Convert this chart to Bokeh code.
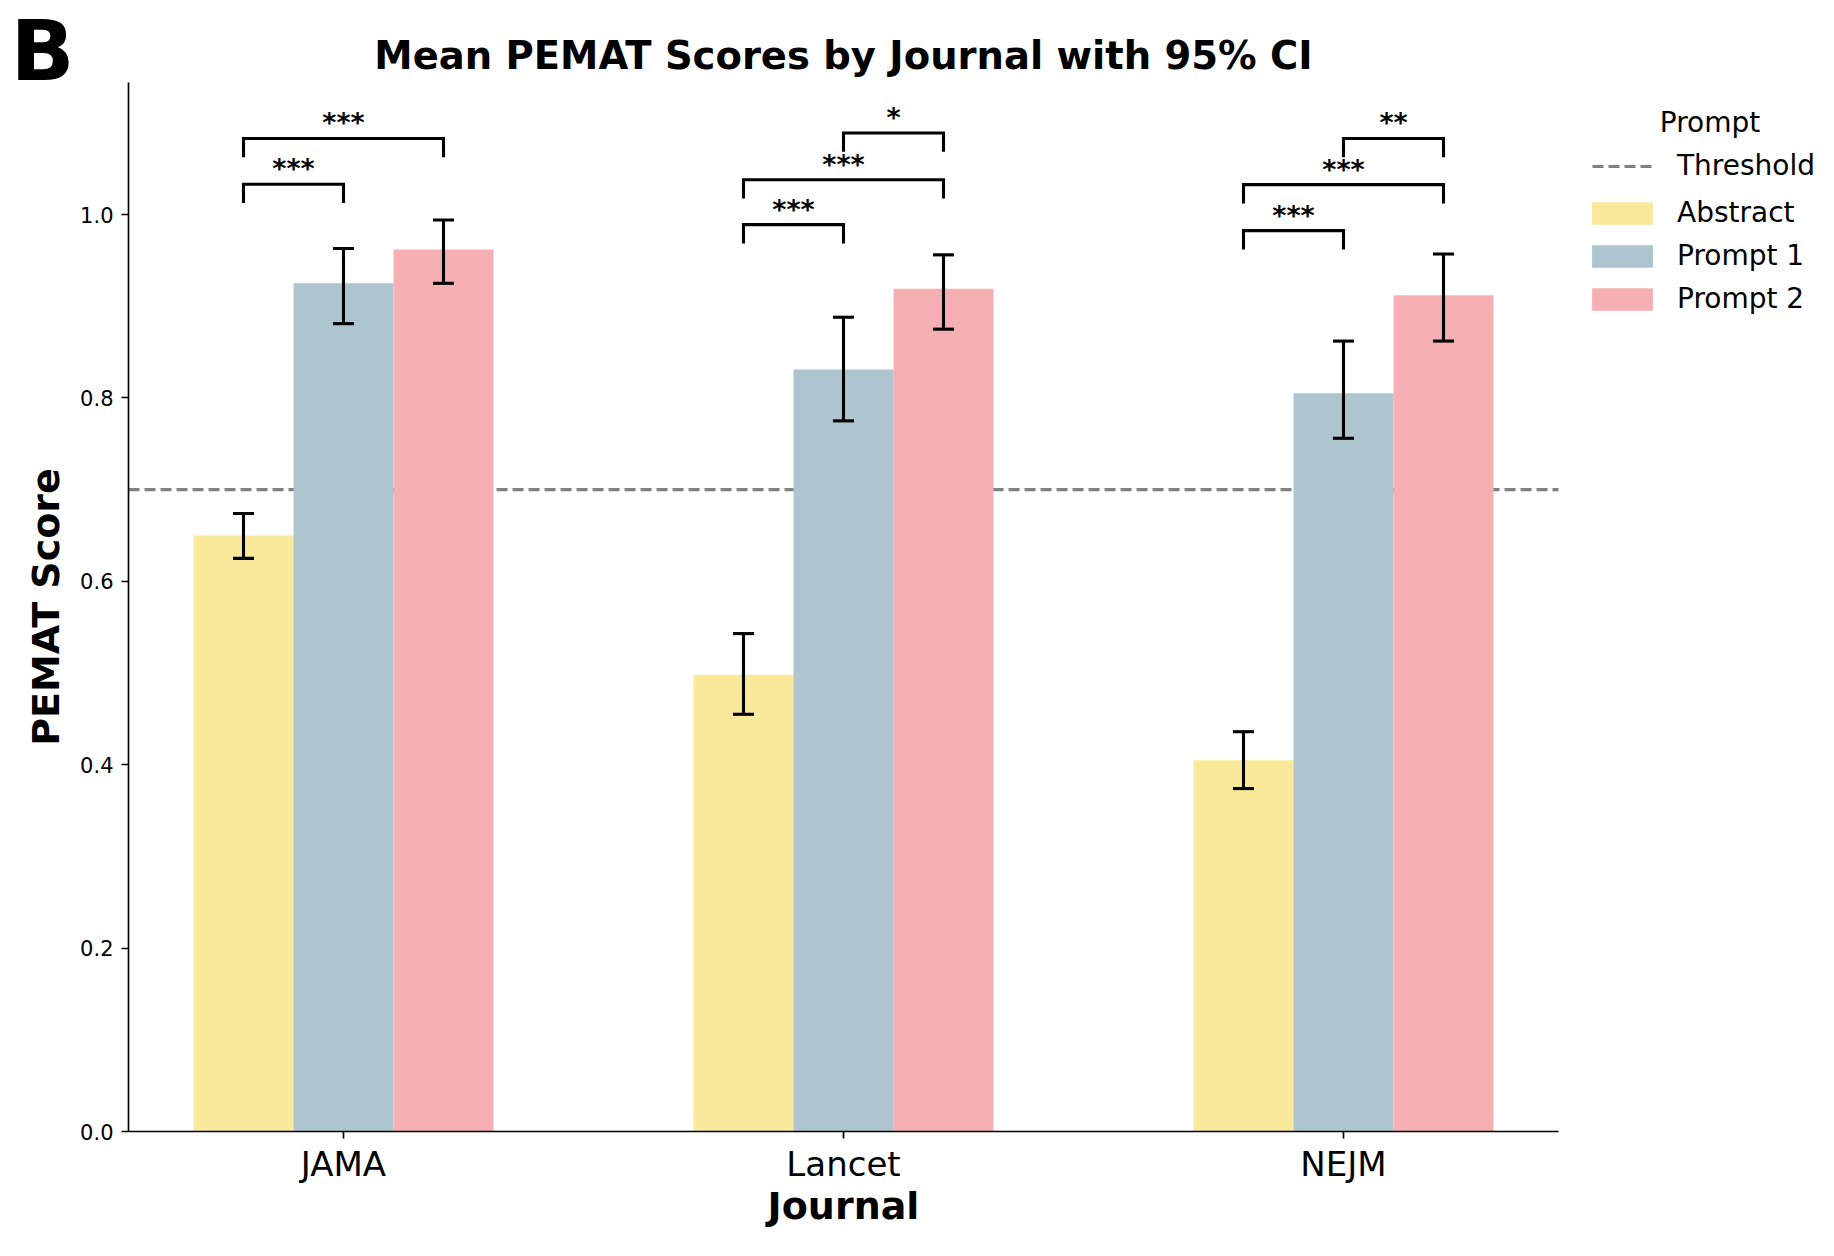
from bokeh.plotting import figure
from bokeh.models import (ColumnDataSource, Whisker, TeeHead, Legend, LegendItem,
                          Label, FixedTicker, Range1d, PrintfTickFormatter)
from bokeh.embed import file_html
from bokeh.resources import INLINE
from bokeh.core.properties import value

# ---------------- data ----------------
journals = ["JAMA", "Lancet", "NEJM"]
series = ["Abstract", "Prompt 1", "Prompt 2"]

abstract_mean = [0.650, 0.498, 0.405]
abstract_lo = [0.625, 0.455, 0.374]
abstract_hi = [0.674, 0.543, 0.436]

prompt1_mean = [0.925, 0.831, 0.805]
prompt1_lo = [0.881, 0.775, 0.756]
prompt1_hi = [0.963, 0.888, 0.862]

prompt2_mean = [0.962, 0.919, 0.912]
prompt2_lo = [0.925, 0.875, 0.862]
prompt2_hi = [0.994, 0.956, 0.957]

threshold = 0.7
y_ticks = [0.0, 0.2, 0.4, 0.6, 0.8, 1.0]

# significance brackets: (journal index, series a, series b, bracket level, stars)
bracket_journal = [0, 0, 1, 1, 1, 2, 2, 2]
bracket_a = [0, 0, 0, 0, 1, 0, 0, 1]
bracket_b = [1, 2, 1, 2, 2, 1, 2, 2]
bracket_level = [1.033, 1.083, 0.989, 1.038, 1.089, 0.9825, 1.0326, 1.083]
bracket_stars = ["***", "***", "***", "***", "*", "***", "***", "**"]

colors = ["#FAE99A", "#AEC5CF", "#F6B0B3"]

# ---------------- layout (pixels) ----------------
W, H = 1818, 1240
AX_L, AX_R, AX_T, AX_B = 128, 1558, 82, 1131   # axes box inside the canvas
X_LO, X_HI = -0.43, 2.43                       # axis extents (data)
Y_LO, Y_HI = 0.0, 1.144

px_x = (AX_R - AX_L) / (X_HI - X_LO)
px_y = (AX_B - AX_T) / (Y_HI - Y_LO)
x_range = Range1d(X_LO - AX_L / px_x, X_HI + (W - AX_R) / px_x)
y_range = Range1d(Y_LO - (H - AX_B) / px_y, Y_HI + AX_T / px_y)

FONT = "DejaVu Sans"
BAR_W = 0.2
offsets = [-BAR_W, 0.0, BAR_W]

p = figure(width=W, height=H, output_backend="svg", toolbar_location=None,
           title=None, x_range=x_range, y_range=y_range,
           min_border=0, min_border_left=0, min_border_right=0,
           min_border_top=0, min_border_bottom=0)
p.outline_line_color = None
p.grid.visible = False
p.background_fill_color = "white"
p.border_fill_color = "white"

# threshold line across the axis
thr = p.line(x=[X_LO, X_HI], y=[threshold, threshold], line_color="#808080",
             line_dash="11 5", line_width=3.1)

means = [abstract_mean, prompt1_mean, prompt2_mean]
los = [abstract_lo, prompt1_lo, prompt2_lo]
his = [abstract_hi, prompt1_hi, prompt2_hi]

bar_renderers = []
for i, name in enumerate(series):
    xs = [j + offsets[i] for j in range(len(journals))]
    src = ColumnDataSource(dict(x=xs, top=means[i], lo=los[i], hi=his[i]))
    r = p.vbar(x="x", top="top", width=BAR_W, source=src, fill_color=colors[i],
               line_color=None)
    bar_renderers.append(r)
    wk = Whisker(source=src, base="x", upper="hi", lower="lo", level="overlay",
                 line_color="black", line_width=3.1,
                 upper_head=TeeHead(size=21, line_color="black", line_width=3.1),
                 lower_head=TeeHead(size=21, line_color="black", line_width=3.1))
    p.add_layout(wk)

# brackets
LEG = 0.0205
b_xs, b_ys, t_x, t_y = [], [], [], []
for j, a, b, lv in zip(bracket_journal, bracket_a, bracket_b, bracket_level):
    x1 = j + offsets[a]
    x2 = j + offsets[b]
    b_xs.append([x1, x1, x2, x2])
    b_ys.append([lv - LEG, lv, lv, lv - LEG])
    t_x.append((x1 + x2) / 2)
    t_y.append(lv + 0.017)
p.multi_line(xs=b_xs, ys=b_ys, line_color="black", line_width=3.1, line_join="miter")
p.text(x=t_x, y=t_y, text=bracket_stars, text_font=value(FONT), text_font_size="27px",
       text_font_style="bold", text_align="center", text_baseline="alphabetic",
       text_color="black")

# axes, drawn at the axis box edges
for ax in (p.xaxis[0], p.yaxis[0]):
    ax.axis_line_color = "black"
    ax.axis_line_width = 1.67
    ax.major_tick_line_color = "black"
    ax.major_tick_line_width = 1.67
    ax.major_tick_out = 7
    ax.major_tick_in = 0
    ax.minor_tick_out = 0
    ax.minor_tick_in = 0
    ax.major_label_text_font = FONT
    ax.major_label_text_color = "black"
    ax.axis_label_text_font = FONT
    ax.axis_label_text_font_size = "38px"
    ax.axis_label_text_font_style = "bold"
    ax.axis_label_text_color = "black"

p.xaxis.fixed_location = Y_LO
p.xaxis.bounds = (X_LO, X_HI)
p.xaxis.ticker = FixedTicker(ticks=list(range(len(journals))))
p.xaxis.major_label_overrides = {i: n for i, n in enumerate(journals)}
p.xaxis.major_label_text_font_size = "34px"
p.xaxis.major_label_standoff = 5
p.xaxis.axis_label = "Journal"
p.xaxis.axis_label_standoff = -3

p.yaxis.fixed_location = X_LO
p.yaxis.bounds = (Y_LO, Y_HI)
p.yaxis.ticker = FixedTicker(ticks=y_ticks)
p.yaxis.formatter = PrintfTickFormatter(format="%.1f")
p.yaxis.major_label_text_font_size = "21px"
p.yaxis.major_label_standoff = 8
p.yaxis.axis_label = "PEMAT Score"
p.yaxis.axis_label_standoff = 9

# title
p.add_layout(Label(x=(AX_L + AX_R) / 2, y=H - 55, x_units="screen", y_units="screen",
                   text="Mean PEMAT Scores by Journal with 95% CI", text_font=FONT,
                   text_font_size="38.5px", text_font_style="bold", text_align="center",
                   text_baseline="alphabetic", text_color="black"))

# legend: threshold line entry and bar entries (bar swatches are drawn inset by Bokeh)
LEG_X = 1592
LEG_FONT = "28px"
legend_thr = Legend(items=[LegendItem(label="Threshold", renderers=[thr])],
                    location=(LEG_X, H - 182), label_text_font=FONT,
                    label_text_font_size=LEG_FONT, label_text_color="black",
                    glyph_width=60, glyph_height=28, label_standoff=25, spacing=10,
                    padding=0, margin=0, border_line_color=None,
                    background_fill_alpha=0)
p.add_layout(legend_thr, "center")

legend_bars = Legend(items=[LegendItem(label=n, renderers=[r])
                            for n, r in zip(series, bar_renderers)],
                     location=(LEG_X - 8, H - 315), label_text_font=FONT,
                     label_text_font_size=LEG_FONT, label_text_color="black",
                     glyph_width=76, glyph_height=28, label_standoff=17, spacing=10,
                     padding=0, margin=0, border_line_color=None,
                     background_fill_alpha=0)
p.add_layout(legend_bars, "center")

p.add_layout(Label(x=1709.5, y=H - 122, x_units="screen", y_units="screen", text="Prompt",
                   text_font=FONT, text_font_size=LEG_FONT, text_align="center",
                   text_baseline="alphabetic", text_color="black"))

# panel letter, anchored by the top of its text box at the canvas top
p.add_layout(Label(x=10, y=H - 1, x_units="screen", y_units="screen", text="B",
                   text_font=FONT, text_font_size="84px", text_font_style="bold",
                   text_align="left", text_baseline="top", text_color="black"))

open("out.html", "w").write(file_html(p, INLINE))
